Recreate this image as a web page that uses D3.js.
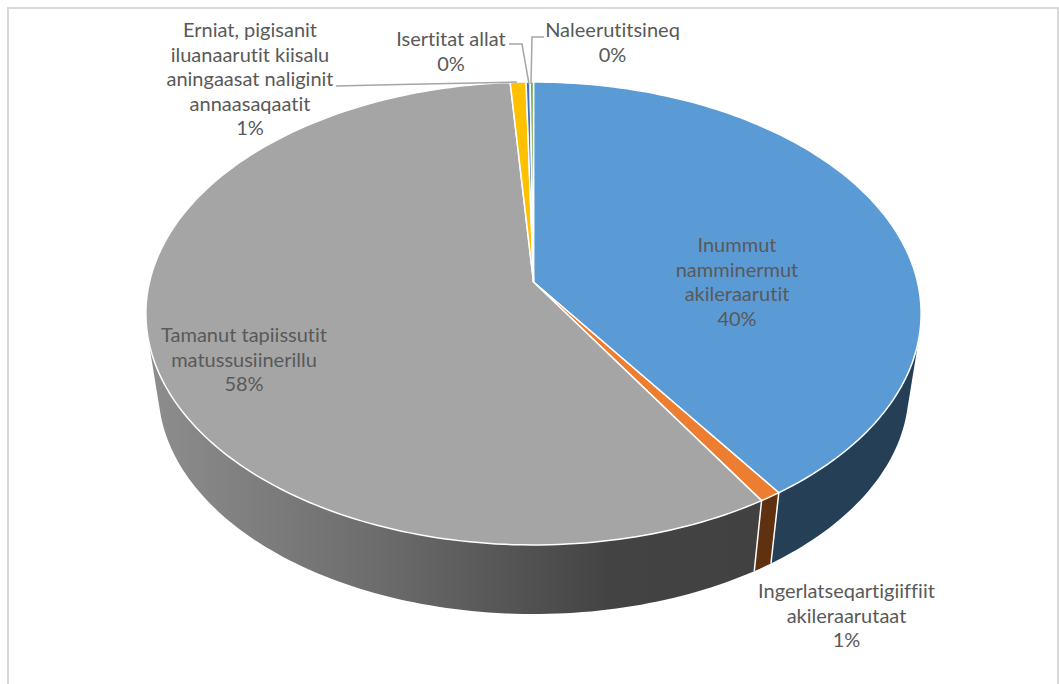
<!DOCTYPE html>
<html>
<head>
<meta charset="utf-8">
<script src="https://cdn.jsdelivr.net/npm/d3@7"></script>
<style>
  html, body { margin: 0; padding: 0; background: #fff; }
  svg { display: block; }
  text { font-family: Lato, "Open Sans", sans-serif; font-size: 20px; fill: #595959; text-anchor: middle; font-variant-ligatures: none; }
</style>
</head>
<body>
<svg id="chart" width="1059" height="684"></svg>
<script>
// slices, clockwise from twelve o'clock
const categories = [
  ['Inummut', 'namminermut', 'akileraarutit'],
  ['Ingerlatseqartigiiffiit', 'akileraarutaat'],
  ['Tamanut tapiissutit', 'matussusiinerillu'],
  ['Erniat, pigisanit', 'iluanaarutit kiisalu', 'aningaasat naliginit', 'annaasaqaatit'],
  ['Isertitat allat'],
  ['Naleerutitsineq']
];
const values = [40.4, 0.8, 57.7, 0.75, 0.19, 0.16];
const topColors = ['#5b9bd5', '#ed7d31', '#a5a5a5', '#ffc000', '#4472c4', '#70ad47'];
const sideColors = ['url(#sideBlue)', '#5f3110', 'url(#sideGray)', '#7f6000', '#203864', '#375623'];

const width = 1059, height = 684;
const svg = d3.select('#chart');

// flat disc seen in perspective
const cx = 533.5, apexY = 282, persp = 0.136, rx = 384, ry = 227.2;
const depthScale = 0.968, bottomApexY = 359.5;

function project(angle, scale, y0) {
  const u = Math.sin(angle), v = -Math.cos(angle), w = 1 - persp * v;
  return [cx + rx * scale * u / w, y0 + ry * scale * v / w];
}
const pie = d3.pie().sort(null).value(d => d);
const arcs = pie(values);
const line = d3.line();

function rimAngles(a) {
  const n = Math.max(2, Math.ceil((a.endAngle - a.startAngle) / 0.02));
  return d3.range(n + 1).map(i => a.startAngle + (a.endAngle - a.startAngle) * i / n);
}
const topPt = t => project(t, 1, apexY);
const lowPt = t => project(t, depthScale, bottomApexY);

// gradients for the rim
const defs = svg.append('defs');
function addGradient(id, stops) {
  const g = defs.append('linearGradient').attr('id', id)
    .attr('gradientUnits', 'userSpaceOnUse')
    .attr('x1', 146).attr('x2', 921).attr('y1', 0).attr('y2', 0);
  stops.forEach(s => g.append('stop').attr('offset', s[0]).attr('stop-color', s[1]));
}
addGradient('sideGray', [[0, '#8e8e8e'], [0.3, '#6c6c6c'], [0.6, '#434343'], [1, '#3f3f3f']]);
addGradient('sideBlue', [[0, '#243f56'], [1, '#243f56']]);

// frame
svg.append('path')
  .attr('d', line([[8, height], [8, 8], [1058, 8], [1058, height]]))
  .attr('fill', 'none').attr('stroke', '#d9d9d9').attr('stroke-width', 2);

// rim, one quad per step; all wound the same way or the overlaps near the silhouette cancel out
svg.append('g').selectAll('path').data(arcs).join('path')
  .attr('d', a => {
    const angles = rimAngles(a);
    return d3.pairs(angles).map(([s, e]) => {
      const quad = [topPt(s), topPt(e), lowPt(e), lowPt(s)];
      if (d3.polygonArea(quad) < 0) quad.reverse();
      return line(quad) + 'Z';
    }).join('');
  })
  .attr('fill', (a, i) => sideColors[i]);

// white seams between rim pieces
svg.append('g').selectAll('path').data(arcs).join('path')
  .attr('d', a => line([topPt(a.startAngle), lowPt(a.startAngle)]))
  .attr('fill', 'none').attr('stroke', '#fff').attr('stroke-width', 1.5);

// top face
svg.append('g').selectAll('path').data(arcs).join('path')
  .attr('d', a => line([[cx, apexY]].concat(rimAngles(a).map(topPt))) + 'Z')
  .attr('fill', (a, i) => topColors[i])
  .attr('stroke', '#fff').attr('stroke-width', 1.5).attr('stroke-linejoin', 'round');

// leader lines
const leaders = [
  { slice: 3, pts: [[336, 86], [400, 84.5], [517, 82]] },
  { slice: 4, pts: [[509, 44], [522, 44], [529, 84]] },
  { slice: 5, pts: [[544, 37], [532, 37], [531, 84]] }
];
svg.append('g').selectAll('path').data(leaders).join('path')
  .attr('d', d => line(d.pts))
  .attr('fill', 'none').attr('stroke', '#a6a6a6').attr('stroke-width', 1.5);

// labels: centre x and first baseline
const labelAnchors = [[737, 252], [846.5, 598], [244, 342], [250, 37], [451, 46], [612.5, 37]];
const lineStep = 24.5;
const pct = d3.format('.0%');
const total = d3.sum(values);
const labels = svg.append('g').selectAll('text').data(categories).join('text')
  .attr('x', (d, i) => labelAnchors[i][0])
  .attr('y', (d, i) => labelAnchors[i][1]);
labels.selectAll('tspan')
  .data((d, i) => d.concat(pct(values[i] / total)))
  .join('tspan')
  .attr('x', function () { return d3.select(this.parentNode).attr('x'); })
  .attr('dy', (d, i) => i ? lineStep : 0)
  .text(d => d);
</script>
</body>
</html>
